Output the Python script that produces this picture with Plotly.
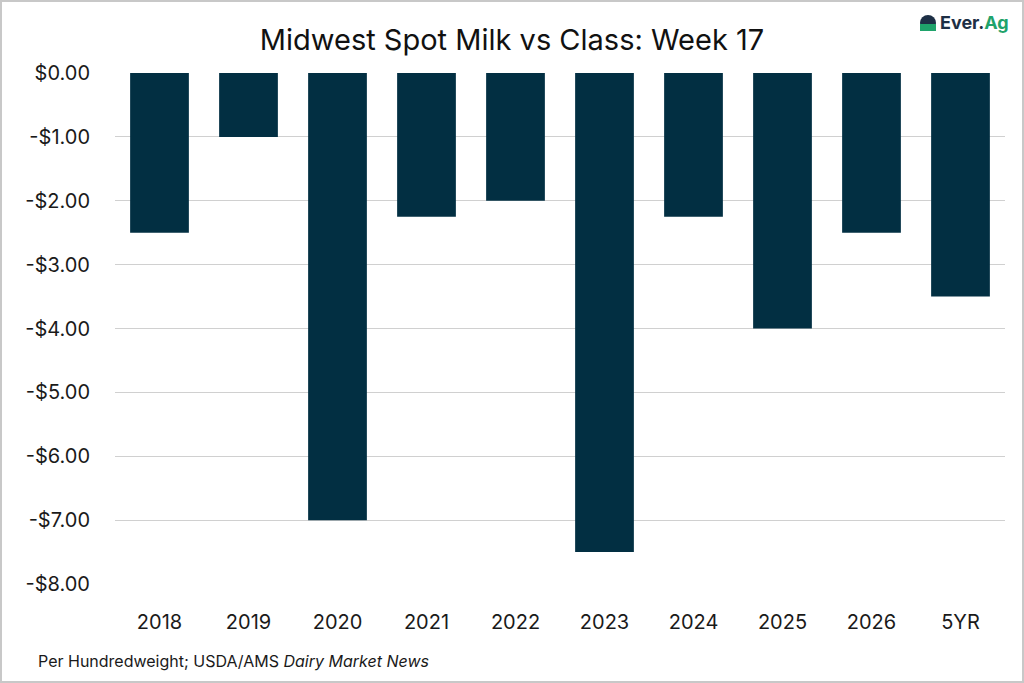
import plotly.graph_objects as go

categories = ["2018", "2019", "2020", "2021", "2022", "2023", "2024", "2025", "2026", "5YR"]
values = [-2.50, -1.00, -7.00, -2.25, -2.00, -7.50, -2.25, -4.00, -2.50, -3.50]
tick_vals = [0, -1, -2, -3, -4, -5, -6, -7, -8]
tick_text = ["$0.00", "-$1.00", "-$2.00", "-$3.00", "-$4.00", "-$5.00", "-$6.00", "-$7.00", "-$8.00"]

W, H = 1024, 683
ml, mr, mt, mb = 115, 19, 73, 99
pw, ph = W - ml - mr, H - mt - mb

FONT = "Inter"

fig = go.Figure(go.Bar(x=categories, y=values, marker_color="#022f42",
                       marker_line_width=0, width=0.66))

fig.update_layout(
    width=W, height=H,
    margin=dict(l=ml, r=mr, t=mt, b=mb),
    paper_bgcolor="white", plot_bgcolor="white",
    font=dict(family=FONT, color="#1a1a1a"),
    title=dict(text="Midwest Spot Milk vs Class: Week 17", x=0.5, xanchor="center",
               y=1 - 40 / H, yanchor="middle", font=dict(size=29, color="#111111", family=FONT)),
    showlegend=False,
)
fig.update_yaxes(range=[-8, 0], tickvals=tick_vals, ticktext=tick_text,
                 showgrid=True, gridcolor="#d0d0d0", gridwidth=1, zeroline=False,
                 tickfont=dict(size=20, color="#1a1a1a"), ticks="", ticklabelstandoff=24)
fig.update_xaxes(showgrid=False, zeroline=False, showline=False, ticks="",
                 tickfont=dict(size=20, color="#1a1a1a"), ticklabelstandoff=24)

# outer border
fig.add_shape(type="rect", xref="paper", yref="paper",
              x0=(-ml + 1) / pw, x1=(pw + mr - 1) / pw,
              y0=(-mb + 1) / ph, y1=(ph + mt - 1) / ph,
              line=dict(color="#c8c8c8", width=2), fillcolor="rgba(0,0,0,0)", layer="below")

# footer
fig.add_annotation(xref="paper", yref="paper", x=(36 - ml) / pw, y=(-(661 - 584)) / ph,
                   xanchor="left", yanchor="middle", showarrow=False,
                   text="Per Hundredweight; USDA/AMS <i>Dairy Market News</i>",
                   font=dict(size=16, color="#1a1a1a", family=FONT))

# logo
fig.add_annotation(xref="paper", yref="paper", x=(1011 - ml) / pw, y=(ph + mt - 23) / ph,
                   xanchor="right", yanchor="middle", showarrow=False,
                   text="<b><span style='color:#1d2f45'>Ever.</span><span style='color:#1fa36b'>Ag</span></b>",
                   font=dict(size=18, family=FONT))
cx, cy, r = 928, 23, 8
fig.add_shape(type="circle", xref="paper", yref="paper",
              x0=(cx - r - ml) / pw, x1=(cx + r - ml) / pw,
              y0=(ph + mt - cy - r) / ph, y1=(ph + mt - cy + r) / ph,
              line=dict(width=0), fillcolor="#1d2f45")
fig.add_shape(type="rect", xref="paper", yref="paper",
              x0=(cx - r - ml) / pw, x1=(cx + r - ml) / pw,
              y0=(ph + mt - cy - r) / ph, y1=(ph + mt - cy - 1) / ph,
              line=dict(width=0), fillcolor="#1fa36b", layer="above")

fig.write_html("out.html", config={"displayModeBar": False},
               post_script="document.body.style.margin='0';document.body.style.overflow='hidden';")
